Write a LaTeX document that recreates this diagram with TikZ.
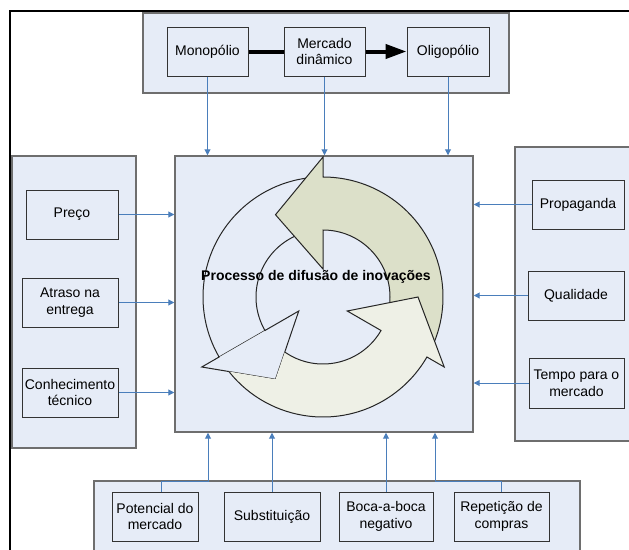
\documentclass[tikz,border=0pt]{standalone}
\usepackage{fontspec}
\setmainfont{Liberation Sans}
\definecolor{PaleBlue}{RGB}{230, 236, 247}
\definecolor{LinkBlue}{RGB}{74, 126, 187}
\definecolor{SageDark}{RGB}{220, 224, 201}
\definecolor{SageLight}{RGB}{238, 240, 230}
\definecolor{EdgeGray}{RGB}{110, 110, 110}
\usetikzlibrary{arrows.meta, positioning, calc}

\begin{document}
\begin{tikzpicture}[x=0.75pt, y=-0.75pt,
            grp/.style={draw=EdgeGray, line width=0.9pt, fill=PaleBlue},
            fac/.style={draw=black!80, line width=0.75pt, fill=PaleBlue, minimum height=36.75pt, inner sep=1pt, align=center, font=\fontsize{10.5}{12.5}\selectfont},
            hub/.style={draw=EdgeGray, line width=1.1pt, fill=PaleBlue, minimum width=223.5pt, minimum height=207pt},
            link/.style={draw=LinkBlue, line width=0.75pt, -{Triangle[length=4.5pt, width=4.5pt]}},
            flow/.style={draw=black, line width=3pt},
            cyc/.style={draw=black!85, line width=0.75pt}
        ]
        \useasboundingbox (0,0) rectangle (629,550);
        \clip (0,0) rectangle (629,550);

        % Frame and groups
        \draw[line width=1.5pt] (10,560) |- (640,11);
        \draw[grp] (143,13) rectangle (509,93);
        \draw[grp] (12,156) rectangle (136,448);
        \draw[grp] (515,147) rectangle (640,441);
        \draw[grp] (94,481) rectangle (580,560);

        % The process
        \node[hub] (proc) at (324,294) {};
        \begin{scope}[shift={(323,297)}, yscale=-1]
        \draw[cyc, fill=PaleBlue] (90:120) arc[start angle=90, end angle=210, radius=120] -- (210:140) -- (240:95) -- (210:28) -- (210:67) arc[start angle=210, end angle=90, radius=67] -- cycle;
        \draw[cyc, fill=SageDark] (-30:120) arc[start angle=-30, end angle=90, radius=120] -- (90:140) -- (120:95) -- (90:28) -- (90:67) arc[start angle=90, end angle=-30, radius=67] -- cycle;
        \begin{scope}[even odd rule]
        \clip (-300,-300) rectangle (300,300) (210:140) -- (240:95) -- (210:28) -- cycle;
        \draw[cyc, fill=SageLight] (210:120) arc[start angle=210, end angle=330, radius=120] -- (330:140) -- (360:95) -- (330:28) -- (330:67) arc[start angle=330, end angle=210, radius=67] -- cycle;
        \end{scope}
        \end{scope}
        \node[font=\bfseries\fontsize{10.5}{12.5}\selectfont] (title) at (316,277) {Processo de difusão de inovações};

        % Market structure
        \node[fac, minimum width=60.75pt] (mono) at (207.5,51.5) {Monopólio};
        \node[fac, minimum width=60.75pt] (merc) at (324.5,51.5) {Mercado\\dinâmico};
        \node[fac, minimum width=61.5pt] (olig) at (448,51.5) {Oligopólio};
        \draw[flow] (mono) -- (merc);
        \draw[flow, -{Triangle[length=15.75pt, width=10.5pt]}] (merc) -- (olig);

        % Left factors
        \node[fac, minimum width=69pt] (preco) at (72,214.5) {Preço};
        \node[fac, minimum width=72pt] (atraso) at (70,302.5) {Atraso na\\entrega};
        \node[fac, minimum width=72pt] (conhec) at (70,392.5) {Conhecimento\\técnico};

        % Right factors
        \node[fac, minimum width=69pt] (propag) at (578,204.5) {Propaganda};
        \node[fac, minimum width=72pt] (qualid) at (576,295.5) {Qualidade};
        \node[fac, minimum width=71.25pt, minimum height=37.5pt] (tempo) at (576.5,383) {Tempo para o\\mercado};

        % Bottom factors
        \node[fac, minimum width=64.5pt] (pot) at (155,516.5) {Potencial do\\mercado};
        \node[fac, minimum width=72pt] (subst) at (272,516.5) {Substituição};
        \node[fac, minimum width=70.5pt] (boca) at (386,516.5) {Boca-a-boca\\negativo};
        \node[fac, minimum width=71.25pt] (repet) at (501.5,516.5) {Repetição de\\compras};

        % Links
        \draw[link] (mono.south) -- (mono.south |- proc.north);
        \draw[link] (merc.south) -- (merc.south |- proc.north);
        \draw[link] (olig.south) -- (olig.south |- proc.north);
        \draw[link] (preco.east) -- (preco.east -| proc.west);
        \draw[link] (atraso.east) -- (atraso.east -| proc.west);
        \draw[link] (conhec.east) -- (conhec.east -| proc.west);
        \draw[link] (propag.west) -- (propag.west -| proc.east);
        \draw[link] (qualid.west) -- (qualid.west -| proc.east);
        \draw[link] (tempo.west) -- (tempo.west -| proc.east);
        \coordinate (potk) at (208,481);
        \coordinate (repk) at (435,481);
        \draw[link] ([xshift=4.5pt]pot.north) |- (potk) -- (potk |- proc.south);
        \draw[link] (subst.north) -- (subst.north |- proc.south);
        \draw[link] (boca.north) -- (boca.north |- proc.south);
        \draw[link] (repet.north) |- (repk) -- (repk |- proc.south);

        \end{tikzpicture}
\end{document}
